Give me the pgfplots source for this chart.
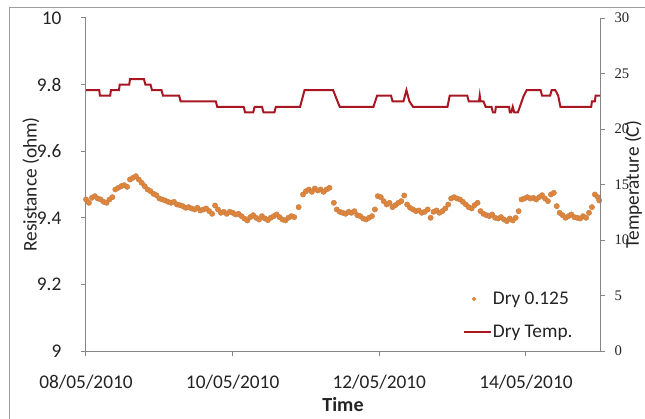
\documentclass[border=0pt]{standalone}
\usepackage{pgfplots}
\pgfplotsset{compat=1.18}
\usepackage{pgfplotstable}
\usepackage{fontspec}
\setmainfont{Carlito}
\newfontfamily\serifnum{Liberation Serif}
\definecolor{dotc}{RGB}{224,134,58}
\definecolor{dotd}{RGB}{196,124,72}
\definecolor{tempc}{RGB}{168,22,34}
\definecolor{axc}{RGB}{134,134,134}
\definecolor{txt}{RGB}{35,35,35}

\pgfplotstableread{
d r
0.00 9.455
0.04 9.445
0.08 9.460
0.12 9.465
0.16 9.458
0.20 9.455
0.24 9.448
0.28 9.445
0.32 9.455
0.36 9.462
0.40 9.485
0.44 9.490
0.48 9.495
0.52 9.498
0.56 9.493
0.60 9.515
0.64 9.520
0.68 9.525
0.72 9.515
0.76 9.505
0.80 9.495
0.84 9.485
0.88 9.480
0.92 9.472
0.96 9.468
1.00 9.458
1.04 9.455
1.08 9.452
1.12 9.448
1.16 9.445
1.20 9.448
1.24 9.440
1.28 9.438
1.32 9.435
1.36 9.430
1.40 9.432
1.44 9.428
1.48 9.425
1.52 9.430
1.56 9.422
1.60 9.425
1.64 9.428
1.68 9.420
1.72 9.412
1.76 9.437
1.80 9.425
1.84 9.415
1.88 9.418
1.92 9.412
1.96 9.418
2.00 9.415
2.04 9.410
2.08 9.412
2.12 9.405
2.16 9.398
2.20 9.392
2.24 9.402
2.28 9.408
2.32 9.400
2.36 9.395
2.40 9.405
2.44 9.398
2.48 9.393
2.52 9.400
2.56 9.405
2.60 9.410
2.64 9.402
2.68 9.395
2.72 9.392
2.76 9.400
2.80 9.405
2.84 9.402
2.90 9.432
2.96 9.470
3.00 9.480
3.04 9.485
3.08 9.478
3.12 9.488
3.16 9.482
3.20 9.485
3.24 9.478
3.28 9.485
3.32 9.490
3.38 9.445
3.42 9.425
3.46 9.418
3.50 9.415
3.54 9.412
3.58 9.418
3.62 9.415
3.66 9.420
3.70 9.408
3.74 9.405
3.78 9.398
3.82 9.395
3.86 9.400
3.90 9.405
3.94 9.425
3.98 9.465
4.02 9.462
4.06 9.450
4.10 9.440
4.14 9.445
4.18 9.432
4.22 9.438
4.26 9.445
4.30 9.450
4.34 9.467
4.38 9.440
4.42 9.430
4.46 9.425
4.50 9.420
4.54 9.422
4.58 9.415
4.62 9.418
4.66 9.425
4.70 9.400
4.74 9.418
4.78 9.422
4.82 9.415
4.86 9.420
4.90 9.428
4.94 9.440
4.98 9.458
5.02 9.462
5.06 9.458
5.10 9.455
5.14 9.448
5.18 9.440
5.22 9.432
5.26 9.428
5.30 9.438
5.34 9.445
5.38 9.420
5.42 9.412
5.46 9.408
5.50 9.405
5.54 9.410
5.58 9.400
5.62 9.398
5.66 9.402
5.70 9.395
5.74 9.390
5.78 9.398
5.82 9.392
5.86 9.400
5.90 9.420
5.94 9.455
5.98 9.458
6.02 9.462
6.06 9.458
6.10 9.460
6.14 9.455
6.18 9.462
6.22 9.468
6.26 9.458
6.30 9.450
6.34 9.470
6.38 9.475
6.42 9.435
6.46 9.415
6.50 9.408
6.54 9.400
6.58 9.405
6.62 9.410
6.66 9.402
6.70 9.400
6.74 9.398
6.78 9.405
6.82 9.400
6.86 9.415
6.90 9.432
6.94 9.470
6.98 9.462
7.00 9.452
}\restable

\pgfplotstableread{
d t
0.00 23.5
0.18 23.5
0.19 23.0
0.33 23.0
0.34 23.5
0.45 23.5
0.46 24.0
0.59 24.0
0.60 24.5
0.79 24.5
0.81 24.0
0.88 24.0
0.90 23.5
1.03 23.5
1.05 23.0
1.27 23.0
1.29 22.5
1.77 22.5
1.79 22.0
2.15 22.0
2.17 21.5
2.28 21.5
2.30 22.0
2.40 22.0
2.42 21.5
2.57 21.5
2.59 22.0
2.92 22.0
2.98 23.5
3.37 23.5
3.46 22.0
3.92 22.0
3.97 23.0
4.16 23.0
4.18 22.5
4.33 22.5
4.37 23.5
4.41 22.5
4.46 22.0
4.93 22.0
4.96 23.0
5.20 23.0
5.22 22.5
5.36 22.5
5.37 23.0
5.38 22.5
5.42 22.5
5.45 22.0
5.53 22.0
5.55 21.5
5.58 21.5
5.59 22.0
5.77 22.0
5.78 21.5
5.80 21.5
5.82 22.0
5.84 21.5
5.89 21.5
5.97 23.0
6.01 23.5
6.20 23.5
6.22 23.0
6.33 23.0
6.35 23.5
6.40 23.5
6.44 23.0
6.47 22.0
6.89 22.0
6.90 22.5
6.94 22.5
6.95 23.0
7.01 23.0
}\temptable

\pgfplotsset{
  base/.style={
    scale only axis, width=385.5pt, height=249.75pt,
    at={(0,0)}, anchor=south west,
    xmin=0, xmax=7.01, clip=false,
    /pgf/number format/assume math mode=true,
    tick align=outside,
    axis line style={axc, line width=0.75pt},
    major tick style={axc, line width=0.75pt},
    major tick length=4pt,
    tick label style={text=txt},
    label style={text=txt},
  }
}

\begin{document}
\begin{tikzpicture}
\draw[axc!80, line width=0.75pt] (-57pt,-53pt) rectangle (430pt,257.25pt);

\begin{axis}[base,
  ymin=9, ymax=10,
  ytick={9,9.2,9.4,9.6,9.8,10},
  yticklabels={9,9.2,9.4,9.6,9.8,10},
  axis x line*=bottom, axis y line*=left,
  xtick={0,2,4,6},
  xticklabels={08/05/2010,10/05/2010,12/05/2010,14/05/2010},
  yticklabel style={font=\fontsize{14.5}{17}\selectfont, anchor=east, inner sep=0pt, xshift=-14.25pt},
  xticklabel style={font=\fontsize{14.5}{17}\selectfont, anchor=north, inner sep=0pt, yshift=-14pt},
  xlabel={\textbf{Time}},
  xlabel style={font=\fontsize{15}{18}\selectfont, at={(axis description cs:0.5,-0.162)}, anchor=center},
  ylabel={Resistance (ohm)},
  ylabel style={font=\fontsize{14.5}{17}\selectfont, at={(axis description cs:-0.107,0.5)}, anchor=center},
]
\addplot[only marks, mark=*, mark size=2pt, mark options={fill=dotc, draw=dotd, line width=0.3pt}] table[x=d,y=r]{\restable};
\end{axis}

\begin{axis}[base,
  ymin=0, ymax=30,
  ytick={0,5,10,15,20,25,30},
  axis y line*=right, axis x line=none,
  yticklabel style={font=\serifnum\fontsize{11}{13}\selectfont, anchor=west, inner sep=0pt, xshift=6.75pt},
  ylabel={Temperature (C)},
  ylabel style={font=\fontsize{14.5}{17}\selectfont, at={(axis description cs:1.065,0.5)}, anchor=center, inner sep=1pt},
  legend style={draw=none, fill=none, at={(axis description cs:0.7335,0.1066)}, anchor=west,
    font=\fontsize{14.5}{17}\selectfont, inner sep=0pt, row sep=12pt,
    nodes={inner sep=1pt, text=txt}},
  legend cell align=left,
]
\addlegendimage{legend image code/.code={\fill[dotc] (7.5pt,0pt) circle (1.4pt);}}
\addlegendentry{Dry 0.125}
\addplot[tempc, line width=1.5pt, legend image code/.code={\draw[tempc, line width=1.2pt] (0pt,0pt) -- (20pt,0pt);}] table[x=d,y=t]{\temptable};
\addlegendentry{Dry Temp.}
\end{axis}

\pgfresetboundingbox
\useasboundingbox (-64.5pt,-50.25pt) rectangle (419.25pt,263.25pt);
\end{tikzpicture}
\end{document}
